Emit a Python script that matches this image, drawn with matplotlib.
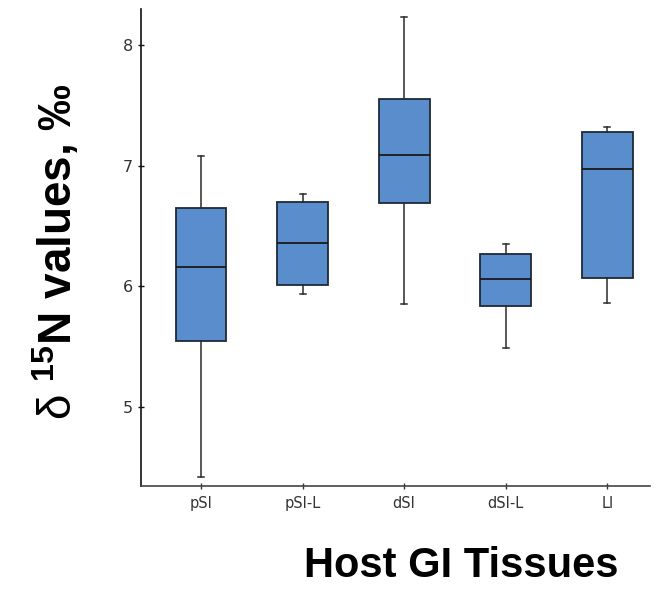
import matplotlib
matplotlib.use("Agg")
import matplotlib.pyplot as plt

# tissues and box summary values (delta 15N, permil)
tissues = ["pSI", "pSI-L", "dSI", "dSI-L", "LI"]
whisker_low = [4.42, 5.94, 5.85, 5.49, 5.86]
q1 = [5.55, 6.01, 6.69, 5.84, 6.07]
medians = [6.16, 6.36, 7.09, 6.06, 6.97]
q3 = [6.65, 6.70, 7.55, 6.27, 7.28]
whisker_high = [7.08, 6.77, 8.23, 6.35, 7.32]

box_color = "#5a8dcc"

plt.rcParams["mathtext.fontset"] = "custom"
plt.rcParams["mathtext.rm"] = "Liberation Sans"
plt.rcParams["mathtext.bf"] = "Liberation Sans:bold"
plt.rcParams["mathtext.default"] = "regular"

fig = plt.figure(figsize=(6.54, 5.89), dpi=100)
ax = fig.add_axes([0.2156, 0.1749, 0.7784, 0.8098])

stats = []
for name, lo, a, m, b, hi in zip(tissues, whisker_low, q1, medians, q3, whisker_high):
    stats.append({"label": name, "whislo": lo, "q1": a, "med": m, "q3": b, "whishi": hi, "fliers": []})

ax.bxp(stats, positions=range(len(tissues)), widths=0.5, capwidths=0.06,
       patch_artist=True, showfliers=False,
       boxprops=dict(facecolor=box_color, edgecolor="#1f2a36", linewidth=1.3),
       medianprops=dict(color="#1a1a1a", linewidth=1.3),
       whiskerprops=dict(color="#2a2a2a", linewidth=1.1),
       capprops=dict(color="#2a2a2a", linewidth=1.1))

ax.set_xlim(-0.59, 4.42)
ax.set_ylim(4.345, 8.3)
ax.set_yticks([5, 6, 7, 8])
ax.set_xticks(range(len(tissues)))
ax.set_xticklabels(tissues)

for s in ["top", "right"]:
    ax.spines[s].set_visible(False)
ax.spines["left"].set_linewidth(1.2)
ax.spines["left"].set_color("#111111")
ax.spines["bottom"].set_linewidth(1.2)
ax.spines["bottom"].set_color("#444444")

ax.tick_params(axis="y", direction="inout", length=5, width=1, labelsize=11.5,
               colors="#111111", labelcolor="#333333", pad=3)
ax.tick_params(axis="x", direction="inout", length=5, width=1, labelsize=10.5,
               colors="#333333", labelcolor="#333333", pad=5)

fig.text(57 / 654, 1 - 252 / 589, r"$\mathrm{\delta}$ $^{15}$N values, ‰", rotation=90,
         family="Liberation Sans", fontweight="bold", fontsize=33,
         ha="center", va="center", color="black")
fig.text(461 / 654, 1 - 566 / 589, "Host GI Tissues",
         family="Liberation Sans", fontweight="bold", fontsize=30,
         ha="center", va="center", color="black")

fig.savefig("out.png", dpi=100)
